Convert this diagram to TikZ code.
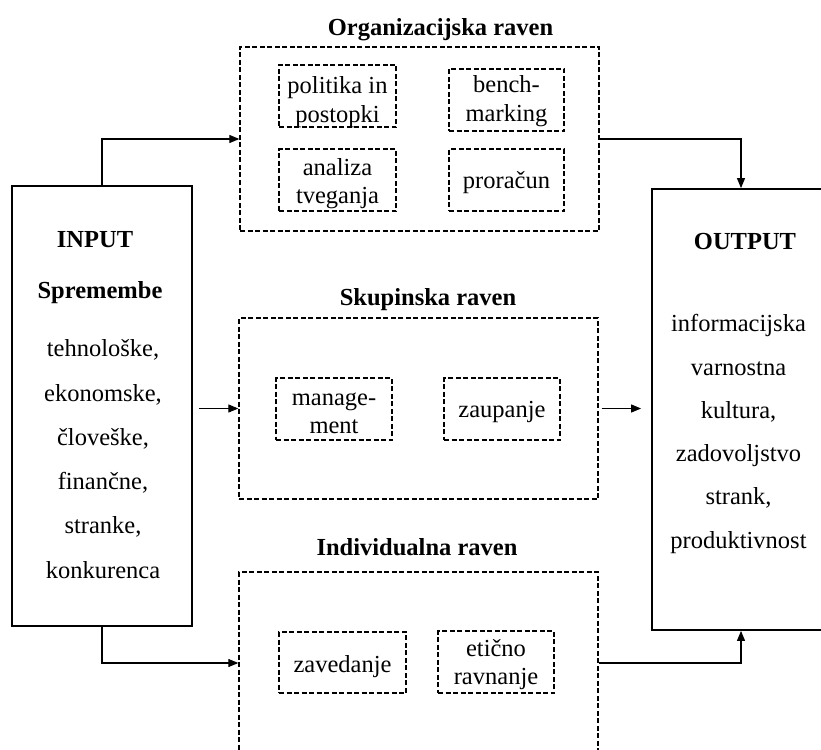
\documentclass[tikz,border=0pt]{standalone}
\usepackage{fontspec}
\setmainfont{Liberation Serif}
\usetikzlibrary{arrows.meta}

% multi-line centred text whose baseline is that of its first line
\newcommand{\mlines}[1]{\begin{tabular}[t]{@{}c@{}}#1\end{tabular}}

\tikzset{
  solidbox/.style={draw, line width=1.8pt, inner sep=0pt},
  dashbox/.style={draw, line width=1.3pt, dash pattern=on 5pt off 2.5pt, inner sep=0pt},
  conn/.style={line width=1.1pt, -{Triangle[length=10pt,width=8pt]}},
  txt/.style={inner sep=0pt, anchor=base, font=\fontsize{24.5pt}{28.5pt}\selectfont},
  head/.style={txt, font=\fontsize{24.5pt}{28.5pt}\selectfont\bfseries},
}

\begin{document}
\begin{tikzpicture}[x=1pt, y=-1pt]
\useasboundingbox (0,0) rectangle (821,749);
\clip (0,0) rectangle (821,749);

% input and output columns
\node[solidbox, minimum width=180pt, minimum height=440pt] (inp) at (102,406) {};
\node[solidbox, minimum width=178pt, minimum height=441pt] (out) at (741,409.5) {};

% the three levels
\node[dashbox, minimum width=359pt, minimum height=184pt] (org) at (419.5,139) {};
\node[dashbox, minimum width=359pt, minimum height=181pt] (skup) at (418.5,408.5) {};
\node[dashbox, minimum width=359pt, minimum height=182pt] (ind) at (418.5,663) {};

% level titles
\node[head] (orgT) at (440.5,36) {Organizacijska raven};
\node[head] (skupT) at (428,305) {Skupinska raven};
\node[head] (indT) at (417,555) {Individualna raven};

% inner boxes
\node[dashbox, minimum width=117pt, minimum height=62pt] (pol) at (337.5,96) {};
\node[dashbox, minimum width=115pt, minimum height=62pt] (ben) at (506.5,100) {};
\node[dashbox, minimum width=117pt, minimum height=62pt] (ana) at (337.5,180) {};
\node[dashbox, minimum width=115pt, minimum height=62pt] (pro) at (506.5,180) {};
\node[dashbox, minimum width=116pt, minimum height=62pt] (man) at (334,409) {};
\node[dashbox, minimum width=116pt, minimum height=62pt] (zau) at (502,409) {};
\node[dashbox, minimum width=127pt, minimum height=61pt] (zav) at (342.5,662.5) {};
\node[dashbox, minimum width=116pt, minimum height=62pt] (eti) at (496,662) {};

\node[txt] (polT) at (337.5,94) {\mlines{politika in\\postopki}};
\node[txt] (benT) at (506.5,93) {\mlines{bench-\\marking}};
\node[txt] (anaT) at (337.5,175) {\mlines{analiza\\tveganja}};
\node[txt] (proT) at (506.5,188) {proračun};
\node[txt] (manT) at (334,405) {\mlines{manage-\\ment}};
\node[txt] (zauT) at (502,417) {zaupanje};
\node[txt] (zavT) at (342.5,672) {zavedanje};
\node[txt] (etiT) at (496,656) {\mlines{etično\\ravnanje}};

% input texts
\node[head] (inpT) at (95,247) {INPUT};
\node[head] (sprT) at (100,298) {Spremembe};
\node[txt, font=\fontsize{24.5pt}{44.3pt}\selectfont] (inpL) at (103,356.7)
  {\mlines{tehnološke,\\ekonomske,\\človeške,\\finančne,\\stranke,\\konkurenca}};

% output texts
\node[head] (outT) at (745,249) {OUTPUT};
\node[txt, font=\fontsize{24.5pt}{43.3pt}\selectfont] (outL) at (738.5,331.7)
  {\mlines{informacijska\\varnostna\\kultura,\\zadovoljstvo\\strank,\\produktivnost}};

% connectors
\draw[conn] (inp.north) |- (org.west);
\draw[conn] ([xshift=6pt]inp.east |- skup.west) -- (skup.west);
\draw[conn] (inp.south) |- (ind.west);
\draw[conn] (org.east) -| (out.north);
\draw[conn] ([xshift=3pt]skup.east) -- ([xshift=-10pt]skup.east -| out.west);
\draw[conn] (ind.east) -| (out.south);
\end{tikzpicture}
\end{document}
